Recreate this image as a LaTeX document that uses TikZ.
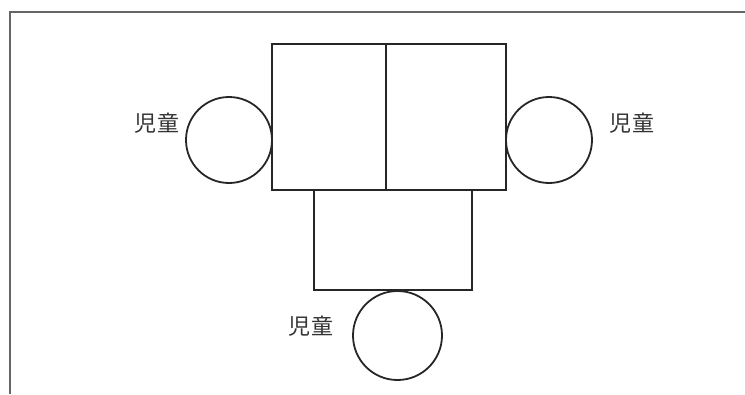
\documentclass[tikz,border=0pt]{standalone}
\usepackage{fontspec}
\newfontfamily\cjk{Noto Sans CJK JP}
\begin{document}
\begin{tikzpicture}[x=1pt,y=-1pt,
  shape line/.style={draw=black!85,line width=1.8pt},
  frame line/.style={draw=black!60,line width=1.8pt},
  lbl/.style={font=\cjk\fontsize{22}{24}\selectfont,text=black!80,inner sep=0pt}]
\useasboundingbox (0,0) rectangle (745,394);
\coordinate (fb) at (10,394);
\coordinate (fc) at (10,12);
\coordinate (fr) at (745,12);
\draw[frame line] (fb) -- (fc) -- (fr);
\node[shape line,rectangle,minimum width=114pt,minimum height=146pt,inner sep=0pt] (tl) at (329,117) {};
\node[shape line,rectangle,minimum width=120pt,minimum height=146pt,inner sep=0pt] (tr) at (446,117) {};
\node[shape line,rectangle,minimum width=158pt,minimum height=100pt,inner sep=0pt] (bm) at (393,240) {};
\node[shape line,circle,minimum size=86pt,inner sep=0pt] (cl) at (229,140) {};
\node[shape line,circle,minimum size=86pt,inner sep=0pt] (cr) at (549,140) {};
\node[shape line,circle,minimum size=89pt,inner sep=0pt] (cb) at (397.5,335.5) {};
\node[lbl] (ll) at (157,123) {児\kern2pt 童};
\node[lbl] (lr) at (632,123) {児\kern2pt 童};
\node[lbl] (lb) at (311,326) {児\kern2pt 童};
\end{tikzpicture}
\end{document}
